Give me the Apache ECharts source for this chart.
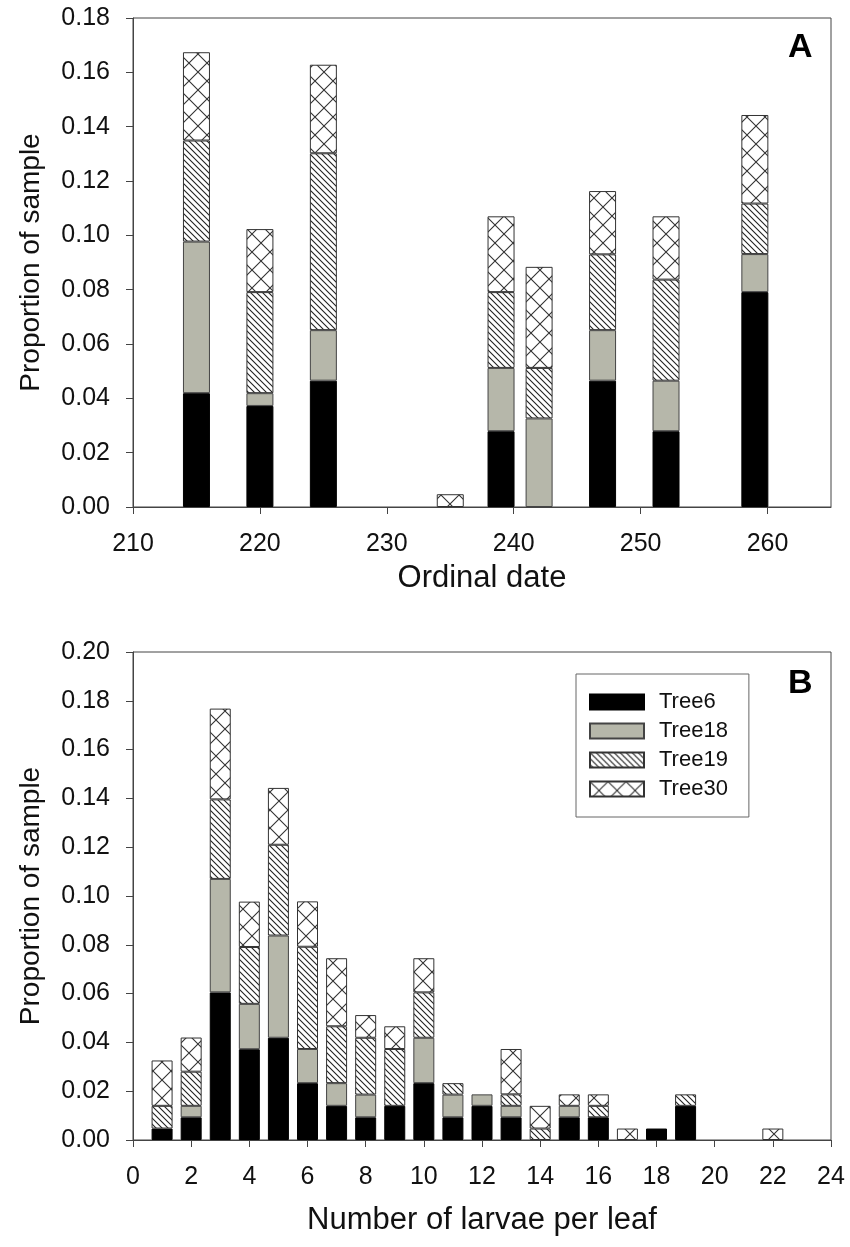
<!DOCTYPE html>
<html>
<head>
<meta charset="utf-8">
<script src="https://cdn.jsdelivr.net/npm/echarts@6/dist/echarts.min.js"></script>
<style>
  html, body { margin: 0; padding: 0; background: #fff; }
  #chart { width: 850px; height: 1247px; }
</style>
</head>
<body>
<div id="chart"></div>
<script>
// Tree identifiers (one stacked layer each)
const treeNames = ['Tree6', 'Tree18', 'Tree19', 'Tree30'];

// Panel A: proportion of sample per ordinal date
const datesA = [215, 220, 225, 235, 239, 242, 247, 252, 259];
const tree6A  = [0.0419, 0.0372, 0.0465, 0,      0.0279, 0,      0.0465, 0.0279, 0.0791];
const tree18A = [0.0558, 0.0047, 0.0186, 0,      0.0233, 0.0326, 0.0186, 0.0186, 0.0140];
const tree19A = [0.0372, 0.0372, 0.0651, 0,      0.0279, 0.0186, 0.0279, 0.0372, 0.0186];
const tree30A = [0.0325, 0.0232, 0.0326, 0.0047, 0.0279, 0.0372, 0.0233, 0.0233, 0.0326];

// Panel B: proportion of sample per number of larvae per leaf
const larvaeB = [1, 2, 3, 4, 5, 6, 7, 8, 9, 10, 11, 12, 13, 14, 15, 16, 17, 18, 19, 22];
const tree6B  = [0.0047, 0.0093, 0.0605, 0.0372, 0.0419, 0.0233, 0.0140, 0.0093, 0.0140, 0.0233,
                 0.0093, 0.0140, 0.0093, 0,      0.0093, 0.0093, 0,      0.0047, 0.0140, 0];
const tree18B = [0,      0.0047, 0.0465, 0.0186, 0.0419, 0.0140, 0.0093, 0.0093, 0,      0.0186,
                 0.0093, 0.0047, 0.0047, 0,      0.0047, 0,      0,      0,      0,      0];
const tree19B = [0.0093, 0.0140, 0.0326, 0.0233, 0.0372, 0.0419, 0.0233, 0.0233, 0.0233, 0.0186,
                 0.0047, 0,      0.0047, 0.0047, 0,      0.0047, 0,      0,      0.0047, 0];
const tree30B = [0.0186, 0.0140, 0.0372, 0.0186, 0.0233, 0.0186, 0.0279, 0.0093, 0.0093, 0.0140,
                 0,      0,      0.0186, 0.0093, 0.0047, 0.0047, 0.0047, 0,      0,      0.0047];

// Axis tick values
const ticksXA = [210, 220, 230, 240, 250, 260];
const ticksXB = [0, 2, 4, 6, 8, 10, 12, 14, 16, 18, 20, 22, 24];

const FONT = '"Liberation Sans", Arial, Helvetica, sans-serif';
const INK = '#111';
const LINE = '#444';

// Fill patterns built on small canvases
function diagonalTile() {
  const s = 6;
  const c = document.createElement('canvas');
  c.width = s; c.height = s;
  const g = c.getContext('2d');
  g.fillStyle = '#fff'; g.fillRect(0, 0, s, s);
  g.strokeStyle = '#222'; g.lineWidth = 1.1;
  g.beginPath();
  g.moveTo(-1, -1); g.lineTo(s + 1, s + 1);
  g.moveTo(-1, s - 1); g.lineTo(1, s + 1);
  g.moveTo(s - 1, -1); g.lineTo(s + 1, 1);
  g.stroke();
  return c;
}
function crossTile() {
  const s = 18;
  const c = document.createElement('canvas');
  c.width = s; c.height = s;
  const g = c.getContext('2d');
  g.fillStyle = '#fff'; g.fillRect(0, 0, s, s);
  g.strokeStyle = '#333'; g.lineWidth = 1.1;
  g.beginPath();
  g.moveTo(0, 0); g.lineTo(s, s);
  g.moveTo(0, s); g.lineTo(s, 0);
  g.stroke();
  return c;
}

const fills = [
  '#000000',
  '#b6b7aa',
  { image: diagonalTile(), repeat: 'repeat' },
  { image: crossTile(), repeat: 'repeat' }
];
const borders = ['#000', '#444', '#333', '#333'];

const seriesA = [tree6A, tree18A, tree19A, tree30A];
const seriesB = [tree6B, tree18B, tree19B, tree30B];

// Rows are [value, position] so the value column is the stacked one
function rows(xs, ys) {
  return xs.map((x, i) => [ys[i] > 0 ? ys[i] : '-', x]);
}

const series = [];
treeNames.forEach((name, i) => {
  series.push({
    type: 'bar', name: name, stack: 'A',
    xAxisIndex: 0, yAxisIndex: 0,
    barWidth: 27,
    encode: { x: 1, y: 0 },
    itemStyle: { color: fills[i], borderColor: borders[i], borderWidth: 1 },
    data: rows(datesA, seriesA[i])
  });
});
treeNames.forEach((name, i) => {
  series.push({
    type: 'bar', name: name, stack: 'B',
    xAxisIndex: 1, yAxisIndex: 1,
    barWidth: 21,
    encode: { x: 1, y: 0 },
    itemStyle: { color: fills[i], borderColor: borders[i], borderWidth: 1 },
    data: rows(larvaeB, seriesB[i])
  });
});

const xNameStyle = { color: INK, fontFamily: FONT, fontSize: 31 };
const yNameStyle = { color: INK, fontFamily: FONT, fontSize: 28 };
const lineStyle = { color: LINE, width: 1 };

function xAxis(idx, min, max, interval, ticks, name, gap) {
  return {
    type: 'value', gridIndex: idx, min: min, max: max, interval: interval,
    name: name, nameLocation: 'middle', nameGap: gap, nameTextStyle: xNameStyle,
    splitLine: { show: false },
    axisLine: { show: true, lineStyle: lineStyle },
    axisTick: { show: true, inside: false, length: 7, lineStyle: lineStyle, customValues: ticks },
    axisLabel: { color: INK, fontFamily: FONT, fontSize: 25, margin: 25, customValues: ticks }
  };
}
function yAxis(idx, max) {
  return {
    type: 'value', gridIndex: idx, min: 0, max: max, interval: 0.02,
    name: 'Proportion of sample', nameLocation: 'middle', nameGap: 88, nameRotate: 90,
    nameTextStyle: yNameStyle,
    splitLine: { show: false },
    axisLine: { show: true, lineStyle: lineStyle },
    axisTick: { show: true, inside: false, length: 7, lineStyle: lineStyle },
    axisLabel: { color: INK, fontFamily: FONT, fontSize: 25, margin: 23,
                 formatter: v => v.toFixed(2) }
  };
}

const chart = echarts.init(document.getElementById('chart'), null, { renderer: 'canvas' });
chart.setOption({
  animation: false,
  backgroundColor: '#fff',
  grid: [
    { left: 133, top: 18, width: 698, height: 489, show: true, borderColor: LINE, borderWidth: 1, containLabel: false },
    { left: 133, top: 652, width: 698, height: 488, show: true, borderColor: LINE, borderWidth: 1, containLabel: false }
  ],
  xAxis: [
    xAxis(0, 210, 265, 5, ticksXA, 'Ordinal date', 56),
    xAxis(1, 0, 24, 2, ticksXB, 'Number of larvae per leaf', 65)
  ],
  yAxis: [
    yAxis(0, 0.18),
    yAxis(1, 0.20)
  ],
  legend: {
    data: treeNames,
    orient: 'vertical',
    left: 576, top: 674,
    padding: [17, 21, 17, 13],
    itemWidth: 54, itemHeight: 15, itemGap: 7,
    icon: 'rect',
    borderColor: '#666', borderWidth: 1,
    backgroundColor: '#fff',
    selectedMode: false,
    textStyle: { color: INK, fontFamily: FONT, fontSize: 22, padding: [0, 0, 0, 10] }
  },
  graphic: [
    { type: 'text', left: 788, top: 31, style: { text: 'A', fontFamily: FONT, fontWeight: 'bold', fontSize: 34, fill: '#000' } },
    { type: 'text', left: 788, top: 667, style: { text: 'B', fontFamily: FONT, fontWeight: 'bold', fontSize: 34, fill: '#000' } }
  ],
  series: series
});
</script>
</body>
</html>
